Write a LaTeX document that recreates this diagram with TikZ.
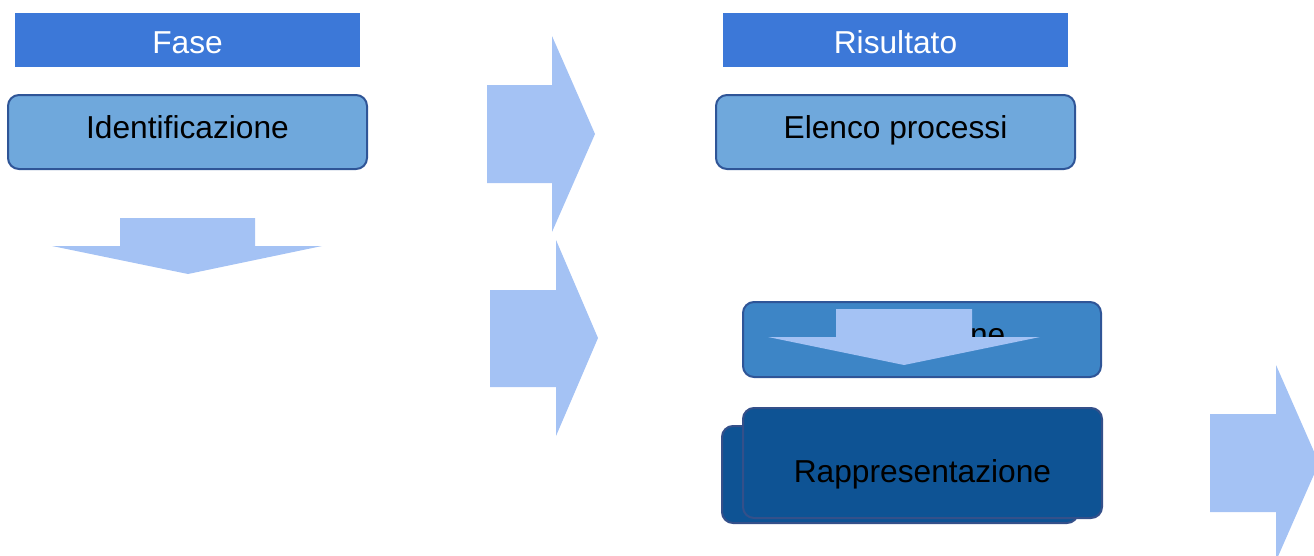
\documentclass[tikz,border=0pt]{standalone}
\usepackage{fontspec}
\setmainfont{Liberation Sans}
\definecolor{hdr}{HTML}{3C78D8}
\definecolor{lightbox}{HTML}{6FA8DC}
\definecolor{midbox}{HTML}{3D85C6}
\definecolor{darkbox}{HTML}{0E5394}
\definecolor{boxline}{HTML}{2F5597}
\definecolor{darkline}{HTML}{34508A}
\definecolor{arrowfill}{HTML}{A4C2F4}
\tikzset{
  hdrbox/.style={rectangle, fill=hdr, inner sep=0pt, minimum width=345pt, minimum height=54pt},
  roundbox/.style={rectangle, rounded corners=11pt, draw=boxline, line width=2pt, inner sep=0pt, minimum width=359pt, minimum height=74pt},
  txt/.style={anchor=base, inner sep=0pt, font=\fontsize{31.7}{38}\selectfont},
  bigarrow/.style={fill=arrowfill}
}
\begin{document}
\begin{tikzpicture}[x=1pt,y=-1pt]
\useasboundingbox (0,0) rectangle (1314,555);
% headers
\node[hdrbox] (fase) at (187.5,40) {};
\node[txt, text=white] (fasetxt) at (187.5,53) {Fase};
\node[hdrbox] (ris) at (895.5,40) {};
\node[txt, text=white] (ristxt) at (895.5,53) {Risultato};
% first row
\node[roundbox, fill=lightbox] (ident) at (187.5,132) {};
\node[txt] (identtxt) at (187.5,138) {Identificazione};
\node[roundbox, fill=lightbox] (elenco) at (895.5,132) {};
\node[txt] (elencotxt) at (895.5,138) {Elenco processi};
% middle box
\node[roundbox, fill=midbox, minimum width=358pt, minimum height=75pt] (mid) at (922,339.5) {};
\node[txt] (midtxt) at (922.5,345) {Descrizione};
\fill[bigarrow] (836,309) -- (972,309) -- (972,337) -- (1040,337) -- (904,365) -- (768,337) -- (836,337) -- cycle;
% bottom boxes
\node[roundbox, fill=darkbox, draw=darkline, minimum width=356pt, minimum height=97pt] (shadow) at (900,474.5) {};
\node[roundbox, fill=darkbox, draw=darkline, minimum width=359pt, minimum height=110pt] (rapp) at (922.5,463) {};
\node[txt] (rapptxt) at (922.5,482) {Rappresentazione};
% arrows
\fill[bigarrow] (120,218) -- (255,218) -- (255,246) -- (322,246) -- (188,274) -- (52,246) -- (120,246) -- cycle;
\fill[bigarrow] (487,85) -- (552,85) -- (552,36) -- (595,134) -- (552,232) -- (552,183) -- (487,183) -- cycle;
\fill[bigarrow] (490,290) -- (556,290) -- (556,240) -- (598,338) -- (556,436) -- (556,387) -- (490,387) -- cycle;
\fill[bigarrow] (1210,414) -- (1276,414) -- (1276,365) -- (1319,463) -- (1276,561) -- (1276,512) -- (1210,512) -- cycle;
\end{tikzpicture}
\end{document}
